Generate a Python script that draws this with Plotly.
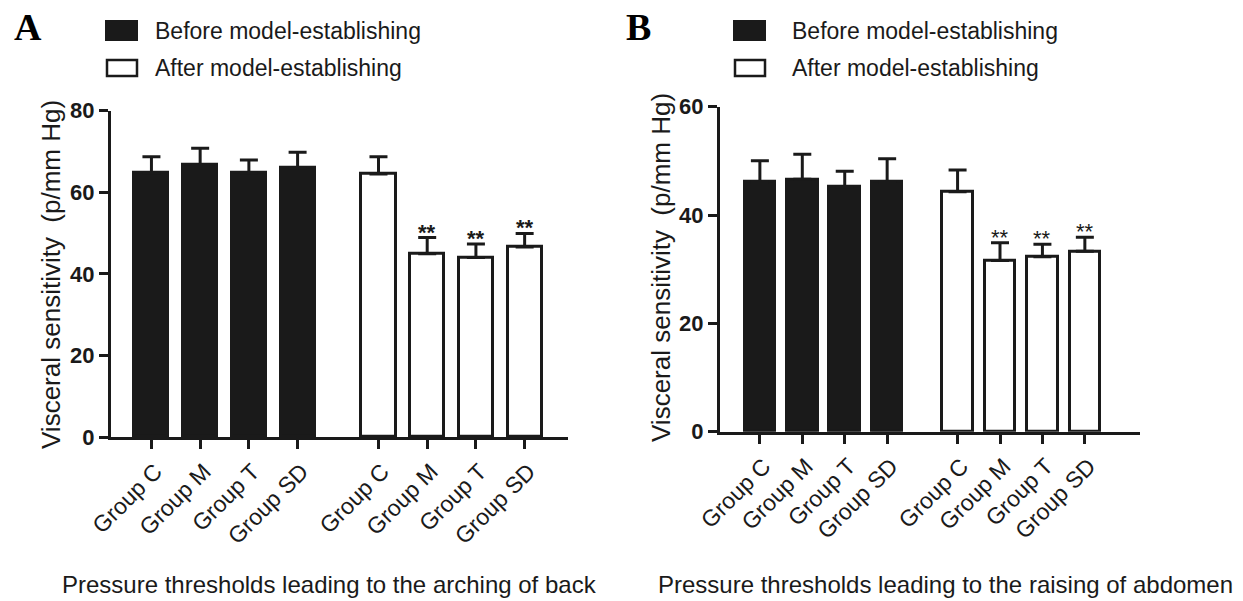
import plotly.graph_objects as go

groups = ["Group C", "Group M", "Group T", "Group SD"]
positions_before = [0, 1, 2, 3]
positions_after = [4.66, 5.66, 6.66, 7.66]

# Panel A: arching of back
a_before = [64.8, 66.7, 64.8, 66.0]
a_before_err = [3.9, 4.1, 3.1, 3.8]
a_after = [64.5, 44.9, 44.0, 46.6]
a_after_err = [4.2, 4.0, 3.3, 3.3]
a_sig = ["", "**", "**", "**"]

# Panel B: raising of abdomen
b_before = [46.1, 46.6, 45.2, 46.1]
b_before_err = [3.9, 4.6, 2.9, 4.3]
b_after = [44.3, 31.6, 32.3, 33.3]
b_after_err = [4.0, 3.3, 2.3, 2.6]
b_sig = ["", "**", "**", "**"]

legend_labels = ["Before model-establishing", "After model-establishing"]
x_titles = ["Pressure thresholds leading to the arching of back",
            "Pressure thresholds leading to the raising of abdomen"]
y_title = "Visceral sensitivity  (p/mm Hg)"

W, H = 1243, 601
fig = go.Figure()

BLACK = "#1a1a1a"
FONT = "Liberation Sans, Arial"

def add_panel(xa, ya, before, berr, after, aerr, sig, bw, bold_sig):
    fig.add_trace(go.Bar(
        x=positions_before, y=before, width=bw, xaxis=xa, yaxis=ya,
        marker=dict(color=BLACK, line=dict(color=BLACK, width=3)),
        error_y=dict(type="data", symmetric=False, array=berr,
                     arrayminus=[0]*4, color=BLACK, thickness=3, width=9),
        showlegend=False, name=legend_labels[0]))
    fig.add_trace(go.Bar(
        x=positions_after, y=after, width=bw, xaxis=xa, yaxis=ya,
        marker=dict(color="white", line=dict(color=BLACK, width=3)),
        error_y=dict(type="data", symmetric=False, array=aerr,
                     arrayminus=[0]*4, color=BLACK, thickness=3, width=9),
        showlegend=False, name=legend_labels[1]))
    for xp, v, e, s in zip(positions_after, after, aerr, sig):
        if s:
            txt = "<b>" + s + "</b>" if bold_sig else s
            fig.add_annotation(x=xp, y=v + e, xref=xa, yref=ya,
                               text=txt,
                               showarrow=False, yanchor="bottom", yshift=-9,
                               font=dict(family=FONT, size=22, color=BLACK))

add_panel("x", "y", a_before, a_before_err, a_after, a_after_err, a_sig, 0.70, True)
add_panel("x2", "y2", b_before, b_before_err, b_after, b_after_err, b_sig, 0.72, False)

tickfont_x = dict(family=FONT, size=23, color=BLACK)
tickfont_y = dict(family=FONT, size=22, color=BLACK)

common_x = dict(tickvals=positions_before + positions_after,
                ticktext=groups + groups, tickangle=-45, ticks="outside",
                ticklen=9, tickwidth=2.5, tickcolor=BLACK, showline=True,
                linewidth=3, linecolor=BLACK, showgrid=False, zeroline=False,
                tickfont=tickfont_x, fixedrange=True, automargin=False,
                ticklabelshift=4)
common_y = dict(ticks="outside", ticklen=9, tickwidth=2.5, tickcolor=BLACK,
                showline=True, linewidth=3, linecolor=BLACK, showgrid=False,
                zeroline=False, tickfont=tickfont_y, fixedrange=True,
                tickprefix="<b>", ticksuffix="</b>", automargin=False)

def px_x(p):
    return p / W

def px_y(p):
    return 1 - p / H

fig.update_layout(
    width=W, height=H, margin=dict(l=0, r=0, t=0, b=0, pad=0, autoexpand=False),
    paper_bgcolor="white", plot_bgcolor="white", bargap=0,
    xaxis=dict(domain=[px_x(111), px_x(568)], range=[-0.83, 8.55], anchor="y", **common_x),
    yaxis=dict(domain=[px_y(437), px_y(110.7)], range=[0, 80], dtick=20, anchor="x", **common_y),
    xaxis2=dict(domain=[px_x(720), px_x(1140)], range=[-0.94, 8.96], anchor="y2", **common_x),
    yaxis2=dict(domain=[px_y(431.7), px_y(106.7)], range=[0, 60], dtick=20, anchor="x2", **common_y),
)

font_txt = dict(family=FONT, size=23, color=BLACK)
font_ax = dict(family=FONT, size=24, color=BLACK)

# Panel letters
for lx, letter in [(12, "A"), (624, "B")]:
    fig.add_annotation(x=px_x(lx), y=px_y(27), xref="paper", yref="paper",
                       text="<b>" + letter + "</b>",
                       showarrow=False, xanchor="left", yanchor="middle",
                       font=dict(family="Liberation Serif, Times New Roman", size=38, color="black"))

# Legends
for bx, tx in [(106, 153), (734, 790)]:
    fig.add_shape(type="rect", xref="paper", yref="paper",
                  x0=px_x(bx), x1=px_x(bx + 31), y0=px_y(40), y1=px_y(21),
                  fillcolor=BLACK, line=dict(color=BLACK, width=2))
    fig.add_shape(type="rect", xref="paper", yref="paper",
                  x0=px_x(bx + 1), x1=px_x(bx + 31), y0=px_y(76), y1=px_y(60),
                  fillcolor="white", line=dict(color=BLACK, width=2.5))
    fig.add_annotation(x=px_x(tx), y=px_y(31), xref="paper", yref="paper",
                       text=legend_labels[0], showarrow=False, xanchor="left",
                       yanchor="middle", font=font_txt)
    fig.add_annotation(x=px_x(tx), y=px_y(68), xref="paper", yref="paper",
                       text=legend_labels[1], showarrow=False, xanchor="left",
                       yanchor="middle", font=font_txt)

# Y titles
for xc, yc in [(51, 275), (661, 268)]:
    fig.add_annotation(x=px_x(xc), y=px_y(yc), xref="paper", yref="paper",
                       text=y_title, textangle=-90, showarrow=False,
                       xanchor="center", yanchor="middle",
                       font=dict(family=FONT, size=26, color=BLACK))

# X titles
for xc, t in [(329, x_titles[0]), (945, x_titles[1])]:
    fig.add_annotation(x=px_x(xc), y=px_y(584), xref="paper", yref="paper",
                       text=t, showarrow=False, xanchor="center", yanchor="middle",
                       font=font_ax)

fig.write_html("out.html", config={"displayModeBar": False},
               post_script="document.body.style.margin='0';document.body.style.overflow='hidden';")
